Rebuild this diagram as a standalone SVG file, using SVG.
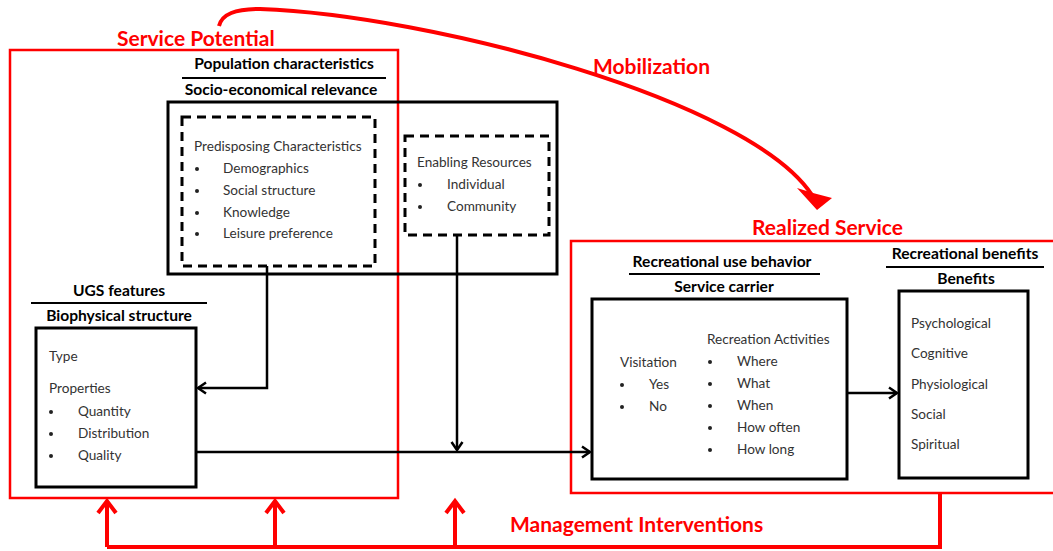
<svg xmlns="http://www.w3.org/2000/svg" width="1053" height="551" viewBox="0 0 1053 551">
<defs>
<style>
text{font-family:Lato,"Liberation Sans",sans-serif}
.red{font-weight:bold;font-size:21px;fill:#f00}
.h{font-weight:bold;font-size:15.6px;fill:#000;text-anchor:middle}
.b{font-size:13.6px;fill:#333}
.box{fill:none;stroke:#000;stroke-width:3}
.dash{fill:none;stroke:#000;stroke-width:3;stroke-dasharray:9 6}
.rbox{fill:none;stroke:#f00;stroke-width:2.5}
.rule{stroke:#000;stroke-width:2}
.conn{fill:none;stroke:#000;stroke-width:2.5}
.rconn{fill:none;stroke:#f00;stroke-width:4}
.dot{fill:#222}
</style>
<marker id="ab" viewBox="0 0 10 12" refX="9" refY="6" markerWidth="10" markerHeight="12" markerUnits="userSpaceOnUse" orient="auto" overflow="visible">
<path d="M1,0.5 L9,6 L1,11.5" fill="none" stroke="#000" stroke-width="2.5"/>
</marker>
<marker id="ar" viewBox="0 0 14 20" refX="13" refY="10" markerWidth="14" markerHeight="20" markerUnits="userSpaceOnUse" orient="auto" overflow="visible">
<path d="M1,1 L13,10 L1,19" fill="none" stroke="#f00" stroke-width="4"/>
</marker>
</defs>
<rect width="1053" height="551" fill="#fff"/>

<g id="service-potential">
<rect class="rbox" x="10" y="50" width="388" height="448"/>
<text class="red" x="117" y="46">Service Potential</text>
</g>

<g id="realized-service">
<rect class="rbox" x="571" y="241" width="490" height="252"/>
<text class="red" x="752" y="235">Realized Service</text>
</g>

<g id="population">
<text class="h" x="284" y="69">Population characteristics</text>
<line class="rule" x1="182" y1="78" x2="386" y2="78"/>
<text class="h" x="281" y="95">Socio-economical relevance</text>
<rect class="box" x="168" y="102" width="389" height="172"/>
</g>

<g id="predisposing">
<rect class="dash" x="182" y="117" width="193" height="149"/>
<text class="b" x="194" y="151">Predisposing Characteristics</text>
<circle class="dot" cx="197" cy="169" r="2"/><text class="b" x="223" y="173">Demographics</text>
<circle class="dot" cx="197" cy="191" r="2"/><text class="b" x="223" y="195">Social structure</text>
<circle class="dot" cx="197" cy="213" r="2"/><text class="b" x="223" y="217">Knowledge</text>
<circle class="dot" cx="197" cy="234" r="2"/><text class="b" x="223" y="238">Leisure preference</text>
</g>

<g id="enabling">
<rect class="dash" x="405" y="136" width="144" height="99"/>
<text class="b" x="417" y="167">Enabling Resources</text>
<circle class="dot" cx="420" cy="185" r="2"/><text class="b" x="447" y="189">Individual</text>
<circle class="dot" cx="420" cy="207" r="2"/><text class="b" x="447" y="211">Community</text>
</g>

<g id="ugs">
<text class="h" x="119" y="296">UGS features</text>
<line class="rule" x1="31" y1="303" x2="207" y2="303"/>
<text class="h" x="119" y="321">Biophysical structure</text>
<rect class="box" x="36" y="328" width="160" height="159"/>
<text class="b" x="49" y="361">Type</text>
<text class="b" x="49" y="393">Properties</text>
<circle class="dot" cx="51" cy="412" r="2"/><text class="b" x="78" y="416">Quantity</text>
<circle class="dot" cx="51" cy="434" r="2"/><text class="b" x="78" y="438">Distribution</text>
<circle class="dot" cx="51" cy="456" r="2"/><text class="b" x="78" y="460">Quality</text>
</g>

<g id="service-carrier">
<text class="h" x="722" y="267">Recreational use behavior</text>
<line class="rule" x1="629" y1="274" x2="820" y2="274"/>
<text class="h" x="724" y="292">Service carrier</text>
<rect class="box" x="592" y="299" width="255" height="180"/>
<text class="b" x="620" y="367">Visitation</text>
<circle class="dot" cx="622" cy="385" r="2"/><text class="b" x="649" y="389">Yes</text>
<circle class="dot" cx="622" cy="407" r="2"/><text class="b" x="649" y="411">No</text>
<text class="b" x="707" y="344">Recreation Activities</text>
<circle class="dot" cx="710" cy="362" r="2"/><text class="b" x="737" y="366">Where</text>
<circle class="dot" cx="710" cy="384" r="2"/><text class="b" x="737" y="388">What</text>
<circle class="dot" cx="710" cy="406" r="2"/><text class="b" x="737" y="410">When</text>
<circle class="dot" cx="710" cy="428" r="2"/><text class="b" x="737" y="432">How often</text>
<circle class="dot" cx="710" cy="450" r="2"/><text class="b" x="737" y="454">How long</text>
</g>

<g id="benefits">
<text class="h" x="965" y="259">Recreational benefits</text>
<line class="rule" x1="886" y1="267" x2="1044" y2="267"/>
<text class="h" x="966" y="284">Benefits</text>
<rect class="box" x="899" y="291" width="129" height="187"/>
<text class="b" x="911" y="328">Psychological</text>
<text class="b" x="911" y="358">Cognitive</text>
<text class="b" x="911" y="389">Physiological</text>
<text class="b" x="911" y="419">Social</text>
<text class="b" x="911" y="449">Spiritual</text>
</g>

<g id="connectors">
<path class="conn" d="M267,266 V388 H198" marker-end="url(#ab)"/>
<path class="conn" d="M457,235 V450" marker-end="url(#ab)"/>
<path class="conn" d="M196,452 H590" marker-end="url(#ab)"/>
<path class="conn" d="M847,393 H897" marker-end="url(#ab)"/>
<path class="rconn" d="M219,26 C222,14 235,9 260,9 C430,15 750,100 812,195"/>
<polygon points="797,188 817,210 832,198 813,193" fill="#f00"/>
<text class="red" x="593" y="74">Mobilization</text>
<path class="rconn" d="M940,493 V547 H107"/>
<path class="rconn" d="M107,547 V501" marker-end="url(#ar)"/>
<path class="rconn" d="M275,547 V501" marker-end="url(#ar)"/>
<path class="rconn" d="M455,547 V501" marker-end="url(#ar)"/>
<text class="red" x="510" y="532">Management Interventions</text>
</g>
</svg>
